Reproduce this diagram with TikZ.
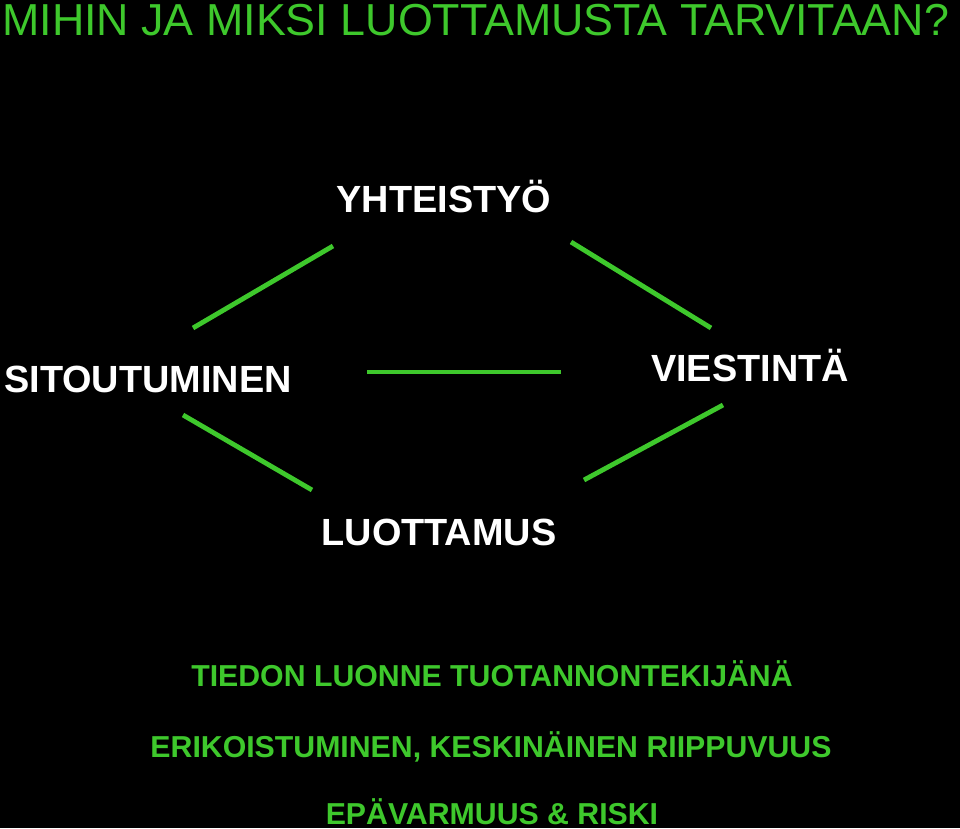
\documentclass[tikz,border=0pt]{standalone}
\usepackage{fontspec}
\setmainfont{Liberation Sans}
\definecolor{lgreen}{RGB}{62,200,44}
\begin{document}
\begin{tikzpicture}[x=0.75pt,y=-0.75pt,
  title/.style={inner sep=0pt,anchor=base west,text=lgreen,font=\fontsize{33.6}{40}\selectfont},
  label/.style={inner sep=0pt,anchor=base,text=white,font=\bfseries\fontsize{28.4}{34}\selectfont},
  note/.style={inner sep=0pt,anchor=base,text=lgreen,font=\bfseries\fontsize{22.7}{28}\selectfont},
  link/.style={draw=lgreen,line width=3.6pt}]
\fill[black] (0,0) rectangle (960,828);
\useasboundingbox (0,0) rectangle (960,828);
\node[title] (t) at (2,35) {MIHIN JA MIKSI LUOTTAMUSTA TARVITAAN?};
\node[label] (yht) at (444,212) {YHTEISTYÖ};
\node[label] (sit) at (148,392) {SITOUTUMINEN};
\node[label] (vie) at (750,381) {VIESTINTÄ};
\node[label] (luo) at (439,545) {LUOTTAMUS};
\node[note] (n1) at (492,686) {TIEDON LUONNE TUOTANNONTEKIJÄNÄ};
\node[note] (n2) at (491,757) {ERIKOISTUMINEN, KESKINÄINEN RIIPPUVUUS};
\node[note] (n3) at (492,824) {EPÄVARMUUS \& RISKI};
\coordinate (a1) at (193,328); \coordinate (a2) at (333,246);
\coordinate (b1) at (571,242); \coordinate (b2) at (711,328);
\coordinate (c1) at (367,372); \coordinate (c2) at (561,372);
\coordinate (d1) at (183,415); \coordinate (d2) at (312,490);
\coordinate (e1) at (723,405); \coordinate (e2) at (584,480);
\draw[link] (a1) -- (a2);
\draw[link] (b1) -- (b2);
\draw[link] (c1) -- (c2);
\draw[link] (d1) -- (d2);
\draw[link] (e1) -- (e2);
\end{tikzpicture}
\end{document}
